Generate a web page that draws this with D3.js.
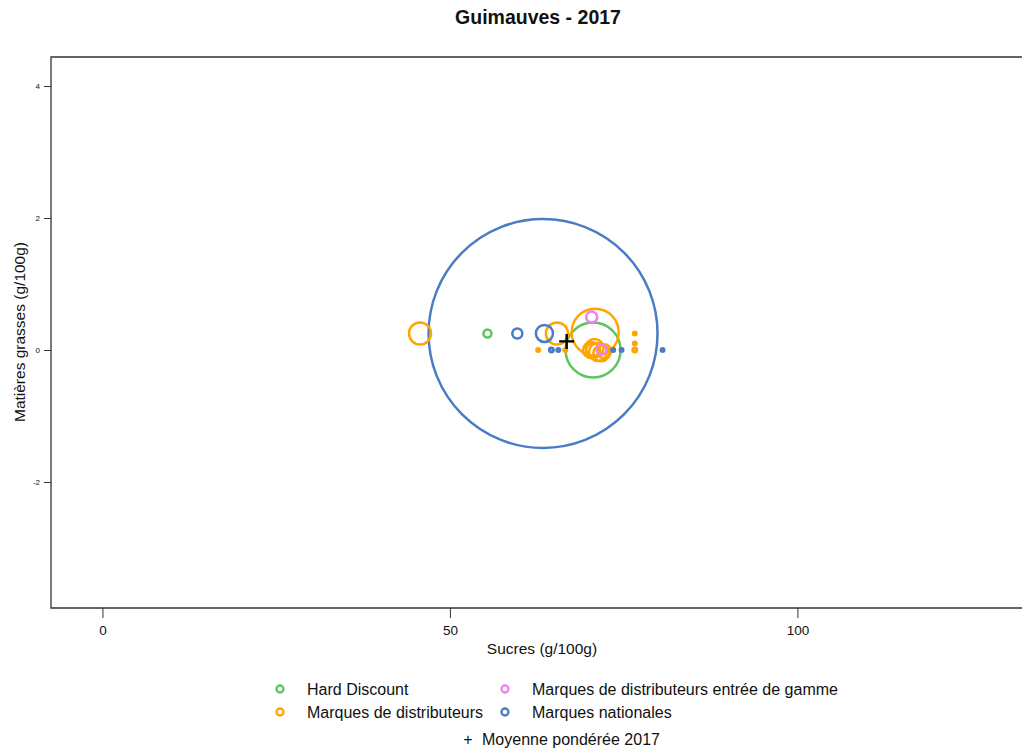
<!DOCTYPE html>
<html>
<head>
<meta charset="utf-8">
<script src="https://cdn.jsdelivr.net/npm/d3@7"></script>
<style>
  html, body { margin: 0; padding: 0; background: #fff; }
  svg { display: block; font-family: "Liberation Sans", Arial, sans-serif; }
</style>
</head>
<body>
<svg id="chart" width="1022" height="749"></svg>
<script>
// ---- Data ----
const title = "Guimauves - 2017";
const xLabel = "Sucres (g/100g)";
const yLabel = "Matières grasses (g/100g)";
const categories = ["Hard Discount", "Marques de distributeurs", "Marques de distributeurs entrée de gamme", "Marques nationales"];
const colors = ["#5DC65D", "#FFA500", "#EE82EE", "#4A7CC3"];
const xTicks = [0, 50, 100];
const yTicks = [-2, 0, 2, 4];

// each point: [sucres, matières grasses, poids]
const hardDiscount = [
  [55.4, 0.25, 0.121],
  [70.6, 0.0, 5.72]
];
const marquesDistributeurs = [
  [45.7, 0.25, 0.915],
  [65.4, 0.25, 0.915],
  [70.9, 0.27, 4.18],
  [70.3, 0.0, 0.484],
  [70.8, 0.03, 0.612],
  [71.3, -0.03, 0.612],
  [71.8, -0.05, 0.484],
  [70.6, 0.0, 0.37],
  [72.2, -0.02, 0.37],
  [62.7, 0.0, 0.017],
  [66.6, 0.0, 0.017],
  [76.6, 0.25, 0.017],
  [76.6, 0.1, 0.017],
  [76.6, 0.0, 0.03]
];
const mddEntreeGamme = [
  [70.4, 0.5, 0.229],
  [71.8, 0.01, 0.189]
];
const marquesNationales = [
  [63.4, 0.25, 99.1],
  [59.7, 0.25, 0.189],
  [63.6, 0.25, 0.546],
  [64.6, 0.0, 0.03],
  [65.6, 0.0, 0.017],
  [73.5, 0.0, 0.017],
  [74.7, 0.0, 0.017],
  [80.6, 0.0, 0.017]
];
const seriesData = [hardDiscount, marquesDistributeurs, mddEntreeGamme, marquesNationales];
const moyenne = [66.8, 0.13];
const moyenneLabel = "Moyenne pondérée 2017";

// ---- Layout ----
const svg = d3.select("#chart");
const pL = 51, pR = 1033, pT = 57, pB = 608;

const x = d3.scaleLinear().domain([-7.4, 133.9]).range([pL, pR]);
const y = d3.scaleLinear().domain([-3.91, 4.44]).range([pB, pT]);
const r = d3.scaleSqrt().domain([0, 100]).range([0, 115]);

// Title
svg.append("text")
  .attr("x", 538).attr("y", 24)
  .attr("text-anchor", "middle")
  .attr("font-size", 19.5).attr("font-weight", "bold")
  .attr("fill", "#111")
  .text(title);

// Box (top, left, bottom)
svg.append("path")
  .attr("d", `M${pR},${pT}H${pL}V${pB}H${pR}`)
  .attr("fill", "none").attr("stroke", "#333").attr("stroke-width", 1.3);

// Axes
const xAxis = svg.append("g")
  .attr("transform", `translate(0,${pB})`)
  .call(d3.axisBottom(x).tickValues(xTicks).tickSize(10).tickPadding(7).tickFormat(d => String(d)));
xAxis.select(".domain").remove();
xAxis.selectAll("line").attr("stroke", "#333");
xAxis.selectAll("text").attr("font-size", 13.5).attr("fill", "#111").attr("font-family", "Liberation Sans, Arial, sans-serif");

const yAxis = svg.append("g")
  .attr("transform", `translate(${pL},0)`)
  .call(d3.axisLeft(y).tickValues(yTicks).tickSize(7).tickPadding(4).tickFormat(d => String(d)));
yAxis.select(".domain").remove();
yAxis.selectAll("line").attr("stroke", "#333");
yAxis.selectAll("text").attr("font-size", 8).attr("fill", "#111").attr("font-family", "Liberation Sans, Arial, sans-serif");

// Axis labels
svg.append("text")
  .attr("x", 542).attr("y", 654)
  .attr("text-anchor", "middle").attr("font-size", 15.5).attr("fill", "#111")
  .text(xLabel);
svg.append("text")
  .attr("transform", `translate(25,332) rotate(-90)`)
  .attr("text-anchor", "middle").attr("font-size", 15.5).attr("fill", "#111")
  .text(yLabel);

// Bubbles (largest first)
const points = [];
seriesData.forEach((arr, i) => arr.forEach(d => points.push({x: d[0], y: d[1], w: d[2], c: colors[i], s: i})));
points.sort((a, b) => b.w - a.w);

const plot = svg.append("g");
plot.selectAll("circle")
  .data(points)
  .join("circle")
  .attr("cx", d => x(d.x))
  .attr("cy", d => y(d.y))
  .attr("r", d => r(d.w))
  .attr("fill", "none")
  .attr("stroke", d => d.c)
  .attr("stroke-width", d => r(d.w) < 2.5 ? 3 : 2.5);

// Weighted mean cross
const mx = x(moyenne[0]), my = y(moyenne[1]);
svg.append("path")
  .attr("d", `M${mx - 7.5},${my}H${mx + 7.5}M${mx},${my - 7.5}V${my + 7.5}`)
  .attr("stroke", "#000").attr("stroke-width", 2.4);

// Legend
const legendPos = [[280, 689], [280, 712], [505, 689], [505, 712]];
const lg = svg.append("g");
categories.forEach((c, i) => {
  const [lx, ly] = legendPos[i];
  lg.append("circle").attr("cx", lx).attr("cy", ly).attr("r", 3.5)
    .attr("fill", "none").attr("stroke", colors[i]).attr("stroke-width", 2.3);
  lg.append("text").attr("x", lx + 27).attr("y", ly + 5.5)
    .attr("font-size", 16).attr("fill", "#111").text(c);
});
lg.append("text").attr("x", 468).attr("y", 745).attr("text-anchor", "middle")
  .attr("font-size", 16).attr("fill", "#111").text("+");
lg.append("text").attr("x", 482).attr("y", 745)
  .attr("font-size", 16).attr("fill", "#111").text(moyenneLabel);
</script>
</body>
</html>
